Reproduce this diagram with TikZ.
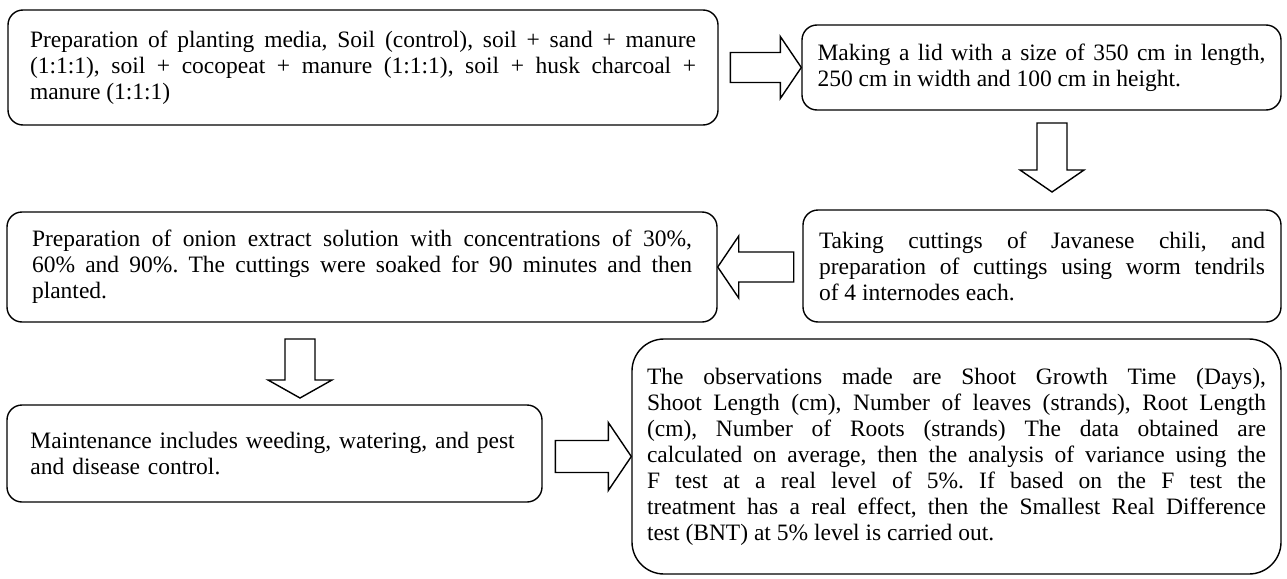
\documentclass[tikz,border=0pt]{standalone}
\usepackage{fontspec}
\setmainfont{Liberation Serif}
\frenchspacing
\begin{document}
\begin{tikzpicture}[x=1pt,y=-1pt,
  box/.style={draw, line width=1.4pt, rounded corners=15pt, inner sep=0pt,
    align=justify, font=\fontsize{23.5}{26}\selectfont},
  barrow/.style={draw, line width=1.4pt, fill=white, line join=miter}]
\useasboundingbox (0,0) rectangle (1287,578);

\node[box, minimum width=710, minimum height=115, text width=666] (b1) at (363,67.5)
 {Preparation of planting media, Soil (control), soil + sand + manure\linebreak
  (1:1:1), soil + cocopeat + manure (1:1:1), soil + husk charcoal +\linebreak
  manure (1:1:1)};

\node[box, minimum width=479, minimum height=85, text width=448] (b2) at (1041.5,67.5)
 {Making a lid with a size of 350 cm in length,\linebreak
  250 cm in width and 100 cm in height.};

\node[box, minimum width=478, minimum height=112, text width=446] (b4) at (1042,266)
 {Taking cuttings of Javanese chili, and\linebreak
  preparation of cuttings using worm tendrils\linebreak
  of 4 internodes each.};

\node[box, minimum width=710, minimum height=110, text width=660] (b3) at (362,267)
 {Preparation of onion extract solution with concentrations of 30\%,\linebreak
  60\% and 90\%. The cuttings were soaked for 90 minutes and then\linebreak
  planted.};

\node[box, minimum width=535, minimum height=97, text width=488, align=left] (b5) at (274.5,453.5)
 {Maintenance includes weeding, watering, and pest\\
  and disease control.};

\node[box, rounded corners=32pt, minimum width=649, minimum height=235, text width=619] (b6) at (956.5,456.5)
 {The observations made are Shoot Growth Time (Days),\linebreak
  Shoot Length (cm), Number of leaves (strands), Root Length\linebreak
  (cm), Number of Roots (strands) The data obtained are\linebreak
  calculated on average, then the analysis of variance using the\linebreak
  F test at a real level of 5\%. If based on the F test the\linebreak
  treatment has a real effect, then the Smallest Real Difference\linebreak
  test (BNT) at 5\% level is carried out.};

% block arrows
\draw[barrow] (b2.west) -- ++(-21,-31) -- ++(0,16) -- ++(-50,0) -- ++(0,30)
  -- ++(50,0) -- ++(0,16) -- cycle;
\draw[barrow] (b3.east) -- ++(21,-31) -- ++(0,16) -- ++(55,0) -- ++(0,30)
  -- ++(-55,0) -- ++(0,16) -- cycle;
\draw[barrow] (b6.west) -- ++(-23,-34) -- ++(0,18) -- ++(-53,0) -- ++(0,32)
  -- ++(53,0) -- ++(0,18) -- cycle;
\draw[barrow] (1052,192) -- (1020,170) -- (1037,170) -- (1037,123) -- (1067,123)
  -- (1067,170) -- (1084,170) -- cycle;
\draw[barrow] (300,398) -- (268,380) -- (285,380) -- (285,339) -- (315,339)
  -- (315,380) -- (332,380) -- cycle;
\end{tikzpicture}
\end{document}
